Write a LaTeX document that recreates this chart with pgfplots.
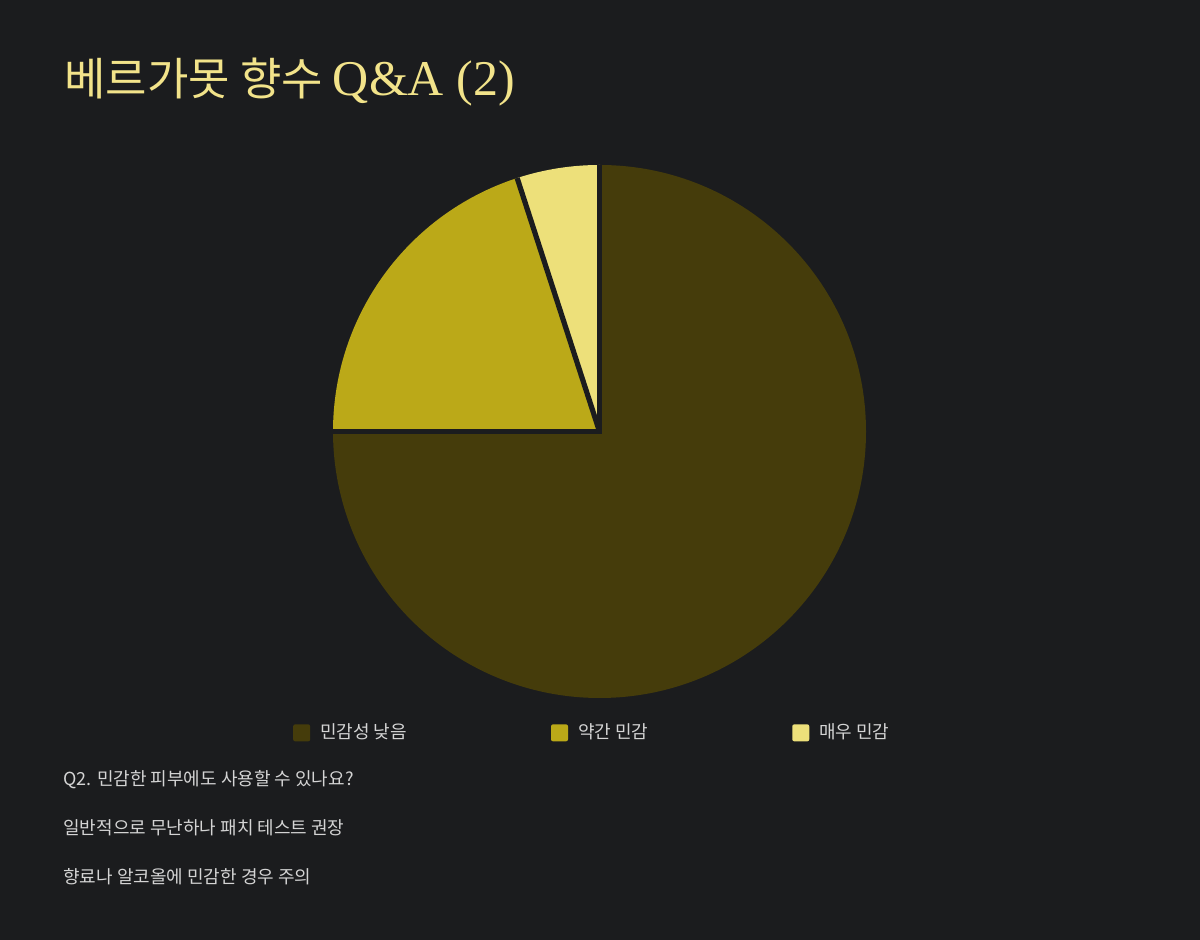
\documentclass[border=0pt]{standalone}
\usepackage{pgfplots}
\pgfplotsset{compat=1.18}
\usepackage{pgfplotstable}
\usepackage{fontspec}
\setmainfont{Noto Sans CJK KR}
\newfontfamily\latinserif{Liberation Serif}
\definecolor{bg}{HTML}{1B1C1E}
\definecolor{sliceA}{HTML}{453C0B}
\definecolor{sliceB}{HTML}{BBA918}
\definecolor{sliceC}{HTML}{EDE07A}
\definecolor{titlec}{HTML}{F2E38A}
\definecolor{textc}{HTML}{D4D4D4}

\pgfplotstableread{
idx value
0 75
1 20
2 5
}\piedata

\begin{document}
\begin{tikzpicture}
\useasboundingbox (0,0) rectangle (600pt,470pt);
\fill[bg] (0,0) rectangle (600pt,470pt);
\pgfplotstablegetelem{0}{value}\of\piedata \edef\va{\pgfplotsretval}
\pgfplotstablegetelem{1}{value}\of\piedata \edef\vb{\pgfplotsretval}
\pgfplotstablegetelem{2}{value}\of\piedata \edef\vc{\pgfplotsretval}
\pgfmathsetmacro\angO{90}
\pgfmathsetmacro\angA{90-3.6*\va}
\pgfmathsetmacro\angB{\angA-3.6*\vb}
\pgfmathsetmacro\angC{\angB-3.6*\vc}
\begin{axis}[
  at={(166.5pt,121pt)}, anchor=south west,
  scale only axis, width=266.5pt, height=266.5pt,
  xmin=-1, xmax=1, ymin=-1, ymax=1,
  hide axis, clip=false,
  legend columns=3,
  legend image code/.code={\fill[#1, rounded corners=1pt] (0pt,-4.25pt) rectangle (8.5pt,4.25pt);},
  legend style={at={(0.4885,-0.0654)}, anchor=center, draw=none, fill=none,
    text=textc, font=\fontsize{9pt}{10.5pt}\selectfont,
    /tikz/every even column/.append style={column sep=70pt},
    /tikz/every odd column/.append style={column sep=3pt},
    inner sep=0pt},
  legend cell align=left,
]
\fill[sliceA] (axis cs:0,0) -- (axis cs:{cos(\angO)},{sin(\angO)}) arc[start angle=\angO, end angle=\angA, radius=133.25pt] -- cycle;
\fill[sliceB] (axis cs:0,0) -- (axis cs:{cos(\angA)},{sin(\angA)}) arc[start angle=\angA, end angle=\angB, radius=133.25pt] -- cycle;
\fill[sliceC] (axis cs:0,0) -- (axis cs:{cos(\angB)},{sin(\angB)}) arc[start angle=\angB, end angle=\angC, radius=133.25pt] -- cycle;
\draw[bg, line width=2.6pt, line join=miter] (axis cs:{cos(\angO)},{sin(\angO)}) -- (axis cs:0,0) -- (axis cs:{cos(\angA)},{sin(\angA)});
\draw[bg, line width=2.6pt] (axis cs:0,0) -- (axis cs:{cos(\angB)},{sin(\angB)});
\addlegendimage{fill=sliceA, draw=none}
\addlegendentry{민감성 낮음}
\addlegendimage{fill=sliceB, draw=none}
\addlegendentry{약간 민감}
\addlegendimage{fill=sliceC, draw=none}
\addlegendentry{매우 민감}
\end{axis}
\node[anchor=base west, inner sep=0pt, text=titlec, font=\fontsize{22.5pt}{27pt}\selectfont] at (32pt,422pt) {베르가못 향수 {\latinserif\fontsize{25pt}{30pt}\selectfont Q\&A (2)}};
\node[anchor=base west, inner sep=0pt, text=textc, font=\fontsize{9pt}{10.5pt}\selectfont] at (31.5pt,77pt) {Q2. 민감한 피부에도 사용할 수 있나요?};
\node[anchor=base west, inner sep=0pt, text=textc, font=\fontsize{9pt}{10.5pt}\selectfont] at (31.5pt,52.5pt) {일반적으로 무난하나 패치 테스트 권장};
\node[anchor=base west, inner sep=0pt, text=textc, font=\fontsize{9pt}{10.5pt}\selectfont] at (31.5pt,28pt) {향료나 알코올에 민감한 경우 주의};
\end{tikzpicture}
\end{document}
